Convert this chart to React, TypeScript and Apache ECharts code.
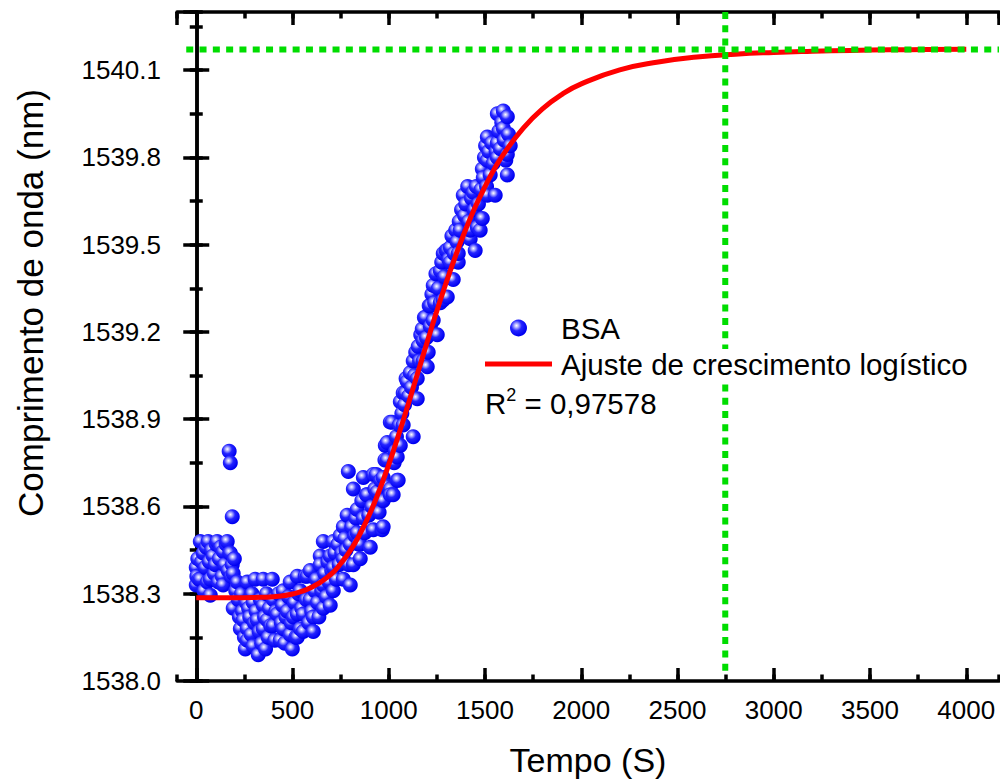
import React, { useEffect, useRef } from "react";
import * as echarts from "echarts";

// ---------- data ----------
const xMin = -100;
const xMax = 4170;
const yMin = 1538.0;
const yMax = 1540.3;

const bsaPoints: [number, number][] = [
  [0,1538.33],[0,1538.39],[3,1538.36],[8,1538.42],[14,1538.35],[21,1538.48],[21,1538.35],[28,1538.41],[36,1538.44],[40,1538.31],
  [47,1538.39],[52,1538.46],[58,1538.34],[62,1538.48],[68,1538.41],[73,1538.295],[73,1538.35],[80,1538.45],[88,1538.43],[94,1538.37],
  [99,1538.40],[104,1538.47],[109,1538.48],[115,1538.34],[120,1538.42],[127,1538.46],[135,1538.36],[140,1538.445],[140,1538.33],[148,1538.40],
  [155,1538.47],[161,1538.48],[166,1538.38],[171,1538.79],[174,1538.44],[177,1538.75],[177,1538.44],[182,1538.36],[187,1538.565],[187,1538.40],
  [192,1538.37],[192,1538.25],
  [198,1538.42],[205,1538.31],[213,1538.34],[218,1538.28],[224,1538.22],[229,1538.18],[235,1538.30],[240,1538.24],[244,1538.21],[250,1538.15],
  [255,1538.11],[260,1538.27],[265,1538.34],[265,1538.18],[265,1538.14],[272,1538.25],[278,1538.22],[285,1538.16],[290,1538.30],[296,1538.12],
  [296,1538.27],[302,1538.20],[306,1538.35],[311,1538.24],[317,1538.21],[322,1538.09],[327,1538.17],[333,1538.28],[340,1538.13],[348,1538.35],
  [348,1538.26],[348,1538.18],[355,1538.22],[360,1538.11],[365,1538.30],[369,1538.21],[374,1538.15],[380,1538.25],[387,1538.19],[395,1538.35],
  [400,1538.28],[400,1538.19],[408,1538.14],[414,1538.24],[421,1538.23],[428,1538.30],[436,1538.14],[442,1538.20],[448,1538.26],
  [452,1538.31],[452,1538.18],[460,1538.13],[466,1538.22],[473,1538.24],[480,1538.29],[488,1538.34],[488,1538.16],[494,1538.20],[499,1538.11],
  [504,1538.22],[510,1538.27],[518,1538.15],[525,1538.36],[525,1538.23],[525,1538.15],[532,1538.30],[540,1538.31],[540,1538.18],[548,1538.25],
  [556,1538.23],[556,1538.17],[566,1538.36],[572,1538.28],[577,1538.36],[584,1538.20],[592,1538.38],[592,1538.28],[600,1538.24],[608,1538.22],
  [608,1538.17],[616,1538.31],[624,1538.35],[630,1538.27],[637,1538.22],[644,1538.43],[644,1538.40],[652,1538.31],[660,1538.48],[660,1538.33],
  [660,1538.25],[668,1538.37],[676,1538.29],[684,1538.41],[690,1538.34],[696,1538.43],[696,1538.26],
  [704,1538.38],[712,1538.48],[712,1538.39],[712,1538.31],[720,1538.44],[728,1538.35],[736,1538.47],[742,1538.40],[748,1538.50],[756,1538.44],
  [764,1538.53],[764,1538.42],[764,1538.35],[772,1538.49],[778,1538.45],[784,1538.57],[790,1538.72],[792,1538.40],[800,1538.47],[800,1538.33],
  [808,1538.53],[816,1538.66],[816,1538.40],[824,1538.50],[830,1538.56],[836,1538.59],[836,1538.51],[844,1538.47],[852,1538.47],[852,1538.42],
  [860,1538.62],[868,1538.70],[868,1538.56],[876,1538.51],[884,1538.64],[888,1538.64],[896,1538.57],[904,1538.46],[912,1538.60],[920,1538.71],
  [920,1538.52],[928,1538.66],[935,1538.71],[940,1538.64],[940,1538.65],[950,1538.58],[958,1538.69],[966,1538.52],[971,1538.70],[971,1538.53],
  [971,1538.62],[980,1538.76],[982,1538.81],[988,1538.67],[992,1538.76],[992,1538.82],
  [1008,1538.89],[1008,1538.66],[1008,1538.64],[1018,1538.89],[1023,1538.64],[1028,1538.75],[1034,1538.79],[1040,1538.84],[1044,1538.77],[1044,1538.69],
  [1049,1538.69],[1055,1538.88],[1060,1538.81],[1060,1538.96],[1068,1538.92],[1075,1538.88],[1075,1538.99],[1082,1538.95],[1086,1538.99],[1090,1539.04],
  [1096,1539.03],[1104,1538.98],[1112,1539.06],[1118,1539.01],[1127,1538.84],[1127,1539.10],[1134,1539.05],[1140,1539.13],[1148,1538.97],[1148,1539.04],
  [1153,1539.15],[1160,1539.10],[1166,1539.19],[1174,1539.21],[1179,1539.10],[1179,1539.17],[1185,1539.25],[1190,1539.25],[1196,1539.18],[1200,1539.08],
  [1205,1539.13],[1210,1539.29],[1216,1539.22],[1216,1539.29],[1224,1539.33],[1231,1539.24],[1231,1539.36],[1238,1539.30],[1245,1539.40],[1252,1539.19],
  [1258,1539.35],[1268,1539.41],[1268,1539.30],[1275,1539.44],[1283,1539.47],[1283,1539.31],[1290,1539.39],
  [1298,1539.48],[1304,1539.32],[1304,1539.48],[1312,1539.45],[1320,1539.49],[1320,1539.44],[1328,1539.53],[1335,1539.38],[1340,1539.47],[1348,1539.55],
  [1355,1539.51],[1361,1539.44],[1361,1539.47],[1366,1539.58],[1371,1539.55],[1378,1539.62],[1387,1539.67],[1394,1539.60],[1400,1539.64],[1410,1539.70],
  [1416,1539.58],[1423,1539.52],[1423,1539.55],[1430,1539.66],[1439,1539.68],[1445,1539.62],[1449,1539.48],[1455,1539.70],[1460,1539.56],[1466,1539.64],
  [1475,1539.55],[1480,1539.69],[1486,1539.59],[1486,1539.76],[1491,1539.73],[1497,1539.80],[1503,1539.84],[1508,1539.70],[1512,1539.67],[1512,1539.79],
  [1512,1539.87],[1520,1539.82],[1527,1539.74],[1535,1539.85],[1543,1539.78],[1553,1539.67],[1558,1539.82],[1564,1539.80],[1564,1539.85],[1564,1539.95],
  [1572,1539.89],[1580,1539.83],[1587,1539.92],[1595,1539.90],[1595,1539.96],[1600,1539.86],[1608,1539.79],[1616,1539.74],[1616,1539.81],[1616,1539.94],
  [1622,1539.88],[1631,1539.84],
];

const fitTimes = [0,100,200,300,400,500,600,700,750,800,850,900,950,1000,1050,1100,1150,1200,1250,1300,1350,1400,1450,1500,1550,1600,1700,1800,1900,2000,2200,2400,2600,2800,3000,3200,3400,3600,3800,4000];
const fitValues = [1538.286,1538.286,1538.286,1538.287,1538.290,1538.299,1538.322,1538.367,1538.403,1538.448,1538.505,1538.573,1538.654,1538.744,1538.844,1538.949,1539.058,1539.166,1539.273,1539.373,1539.467,1539.553,1539.631,1539.700,1539.762,1539.815,1539.902,1539.968,1540.017,1540.053,1540.101,1540.128,1540.145,1540.155,1540.161,1540.165,1540.168,1540.170,1540.171,1540.172];

const plateauValue = 1540.171;
const plateauStart = -52;
const plateauTime = 2748;
const plateauLineBottom = 1538.02;

const xTickLabels = ["0", "500", "1000", "1500", "2000", "2500", "3000", "3500", "4000"];

const seriesNames = ["BSA", "Ajuste de crescimento logístico"];
const r2Text = "0,97578";
const xName = "Tempo (S)";
const yName = "Comprimento de onda (nm)";

const FONT = "'Liberation Sans', Arial, Helvetica, sans-serif";

export default function App() {
  const ref = useRef<HTMLDivElement>(null);
  useEffect(() => {
    if (!ref.current) return;
    const chart = echarts.init(ref.current, undefined, { renderer: "svg" });

    const grid = { left: 177, right: 1, top: 12, bottom: 99 };
    const axisLineStyle = { color: "#000", width: 3.5 };
    const majorTick = (show: boolean) => ({ show, inside: true, length: 13, lineStyle: { color: "#000", width: 3.5 } });
    const minorTick = { show: true, inside: true, length: 6.5, lineStyle: { color: "#000", width: 3.5 } };

    const xLabelFmt = (v: number) => {
      const s = String(Math.round(v));
      return xTickLabels.includes(s) && Math.abs(v - Math.round(v)) < 1e-6 ? s : "";
    };
    const yLabelFmt = (v: number) => {
      const k = (v - yMin) / 0.3;
      return Math.abs(k - Math.round(k)) < 1e-6 ? v.toFixed(1) : "";
    };

    const baseX = { type: "value", min: xMin, max: xMax, splitLine: { show: false }, gridIndex: 0 };
    const baseY = { type: "value", min: yMin, max: yMax, splitLine: { show: false }, gridIndex: 0 };

    const option: any = {
      animation: false,
      backgroundColor: "#fff",
      grid,
      xAxis: [
        {
          ...baseX,
          position: "bottom",
          minInterval: 500,
          maxInterval: 500,
          axisLine: { show: true, lineStyle: axisLineStyle },
          axisTick: majorTick(true),
          axisLabel: { show: true, formatter: xLabelFmt, fontSize: 26, fontFamily: FONT, color: "#000", margin: 16, showMinLabel: false, showMaxLabel: false },
          name: xName,
          nameLocation: "middle",
          nameGap: 62,
          nameTextStyle: { fontSize: 34, fontFamily: FONT, color: "#000" },
        },
        {
          ...baseX,
          position: "bottom",
          minInterval: 250,
          maxInterval: 250,
          axisLine: { show: false },
          axisTick: minorTick,
          axisLabel: { show: false },
        },
        {
          ...baseX,
          position: "top",
          minInterval: 500,
          maxInterval: 500,
          axisLine: { show: true, lineStyle: axisLineStyle },
          axisTick: majorTick(true),
          axisLabel: { show: false },
        },
        {
          ...baseX,
          position: "top",
          minInterval: 250,
          maxInterval: 250,
          axisLine: { show: false },
          axisTick: minorTick,
          axisLabel: { show: false },
        },
      ],
      yAxis: [
        {
          ...baseY,
          position: "left",
          interval: 0.3,
          axisLine: { show: true, lineStyle: axisLineStyle },
          axisTick: majorTick(true),
          axisLabel: { show: true, formatter: yLabelFmt, fontSize: 26, fontFamily: FONT, color: "#000", margin: 16, showMaxLabel: false },
        },
        {
          ...baseY,
          position: "left",
          interval: 0.15,
          axisLine: { show: false },
          axisTick: minorTick,
          axisLabel: { show: false },
        },
        {
          ...baseY,
          position: "right",
          interval: 0.3,
          axisLine: { show: true, lineStyle: axisLineStyle },
          axisTick: majorTick(true),
          axisLabel: { show: false },
        },
        {
          ...baseY,
          position: "right",
          interval: 0.15,
          axisLine: { show: false },
          axisTick: minorTick,
          axisLabel: { show: false },
        },
      ],
      legend: {
        orient: "vertical",
        left: 485,
        top: 313,
        itemWidth: 67,
        itemHeight: 17,
        itemGap: 6,
        selectedMode: false,
        padding: 0,
        textStyle: {
          fontSize: 29.5,
          fontFamily: FONT,
          color: "#000",
          lineHeight: 30,
          backgroundColor: "#fff",
          padding: [0, 2, 0, 4],
        },
        data: [
          { name: seriesNames[0], icon: "circle" },
          { name: seriesNames[1], icon: "path://M0,0 L67,0 L67,5 L0,5 Z", itemStyle: { color: "#ff0000" } },
        ],
      },
      graphic: [
        {
          type: "text",
          left: 485,
          top: 386,
          z: 10,
          style: {
            text: "R{sup|2} = " + r2Text,
            fontSize: 29.5,
            fontFamily: FONT,
            fill: "#000",
            rich: {
              sup: { fontSize: 18, fontFamily: FONT, fill: "#000", verticalAlign: "top", lineHeight: 34 },
            },
          },
        },
        {
          type: "text",
          x: 30,
          y: 303,
          rotation: Math.PI / 2,
          style: {
            text: yName,
            fontSize: 35,
            fontFamily: FONT,
            fill: "#000",
            align: "center",
            verticalAlign: "middle",
          },
        },
      ],
      series: [
        {
          name: seriesNames[0],
          type: "scatter",
          xAxisIndex: 0,
          yAxisIndex: 0,
          symbol: "circle",
          symbolSize: 15,
          data: bsaPoints,
          itemStyle: {
            color: {
              type: "radial",
              x: 0.38,
              y: 0.36,
              r: 0.62,
              colorStops: [
                { offset: 0, color: "#ffffff" },
                { offset: 0.18, color: "#b8b8ff" },
                { offset: 0.5, color: "#2424ff" },
                { offset: 1, color: "#0000f0" },
              ],
            },
            opacity: 1,
          },
          emphasis: { disabled: true },
        },
        {
          name: seriesNames[1],
          type: "line",
          xAxisIndex: 0,
          yAxisIndex: 0,
          showSymbol: false,
          symbol: "none",
          smooth: 0.5,
          data: fitTimes.map((t, i) => [t, fitValues[i]]),
          lineStyle: { color: "#ff0000", width: 5 },
          itemStyle: { color: "#ff0000" },
          emphasis: { disabled: true },
        },
        {
          name: "plateau-h",
          type: "line",
          xAxisIndex: 0,
          yAxisIndex: 0,
          showSymbol: false,
          symbol: "none",
          data: [[plateauStart, plateauValue], [xMax, plateauValue]],
          lineStyle: { color: "#00dd00", width: 6, type: [7, 6.3] },
          emphasis: { disabled: true },
          z: 3,
        },
        {
          name: "plateau-v",
          type: "line",
          xAxisIndex: 0,
          yAxisIndex: 0,
          showSymbol: false,
          symbol: "none",
          data: [[plateauTime, yMax], [plateauTime, plateauLineBottom]],
          lineStyle: { color: "#00dd00", width: 6, type: [7, 6.3] },
          emphasis: { disabled: true },
          z: 3,
        },
      ],
    };

    chart.setOption(option);
    return () => chart.dispose();
  }, []);

  return (
    <div
      ref={ref}
      style={{ position: "fixed", left: 0, top: 0, width: 1000, height: 782, background: "#fff" }}
    />
  );
}
